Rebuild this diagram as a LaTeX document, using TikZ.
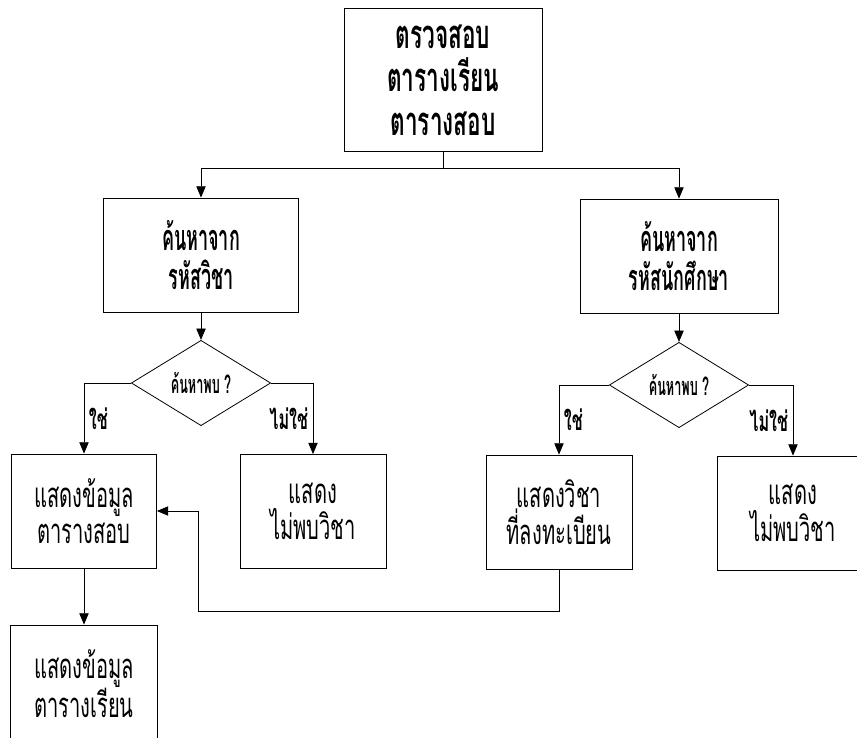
\documentclass[tikz,border=0pt]{standalone}
\usepackage{fontspec}
\newfontfamily\thai[Script=Thai,FakeStretch=0.58]{Loma}
\newfontfamily\thaihua[Script=Thai,FakeStretch=0.5]{Loma}
\newfontfamily\thaiyai[Script=Thai,FakeStretch=0.565]{Loma}
\usetikzlibrary{shapes.geometric,arrows.meta}
\begin{document}
\begin{tikzpicture}[x=0.75pt,y=-0.75pt,>={Triangle[length=8.5pt,width=7pt]},line width=0.6pt,
	khung/.style={draw,align=center,minimum width=109.5pt,minimum height=85.5pt,font=\fontsize{26}{27.5}\selectfont\thai},
	khungdam/.style={khung,font=\fontsize{27}{29}\selectfont\thaihua\bfseries},
	phet/.style={draw,shape=diamond,inner sep=0pt,shape aspect=1.6,minimum width=104.5pt,minimum height=64pt,font=\fontsize{19}{18}\selectfont\thaihua\bfseries},
	pai/.style={font=\fontsize{21}{18}\selectfont\thai\bfseries}]
	\useasboundingbox (0,0) rectangle (857,738);
	\node[khung,minimum width=148.5pt,minimum height=107.25pt,font=\fontsize{30}{32.5}\selectfont\thaiyai\bfseries] (truat) at (443,80) {ตรวจสอบ\\ตารางเรียน\\ตารางสอบ};
	\node[khungdam,minimum width=146.25pt] (khonwicha) at (201,255) {ค้นหาจาก\\รหัสวิชา};
	\node[khungdam,minimum width=148.5pt] (khonrahat) at (679,256) {ค้นหาจาก\\รหัสนักศึกษา};
	\node[phet] (phopL) at (201,383) {ค้นหาพบ ?};
	\node[phet] (phopR) at (679,385) {ค้นหาพบ ?};
	\node[khung,minimum width=108.75pt] (sob) at (84,511) {แสดงข้อมูล\\ตารางสอบ};
	\node[khung] (maiphopL) at (313,511.5) {แสดง\\ไม่พบวิชา};
	\node[khung] (longtha) at (559,512) {แสดงวิชา\\ที่ลงทะเบียน};
	\node[khung,minimum width=114pt] (maiphopR) at (793,513) {แสดง\\ไม่พบวิชา};
	\node[khung,minimum width=110.25pt,minimum height=87.75pt] (rian) at (84,683.5) {แสดงข้อมูล\\ตารางเรียน};
	\coordinate (yaek) at (443,168);
	\coordinate (mum) at (198,611);
	\draw (truat) -- (yaek);
	\draw[->] (yaek) -| (khonwicha);
	\draw[->] (yaek) -| (khonrahat);
	\draw[->] (khonwicha) -- (phopL);
	\draw[->] (khonrahat) -- (phopR);
	\draw[->] (phopL.west) -| node[pai,right,pos=0.75] (chaiL) {ใช่} (sob);
	\draw[->] (phopL.east) -| node[pai,left,pos=0.75] (maichaiL) {ไม่ใช่} (maiphopL);
	\draw[->] (phopR.west) -| node[pai,right,pos=0.75] (chaiR) {ใช่} (longtha);
	\draw[->] (phopR.east) -| node[pai,left,pos=0.75] (maichaiR) {ไม่ใช่} (maiphopR);
	\draw[->] (sob) -- (rian);
	\draw[->] (longtha) |- (mum) |- (sob);
\end{tikzpicture}
\end{document}
